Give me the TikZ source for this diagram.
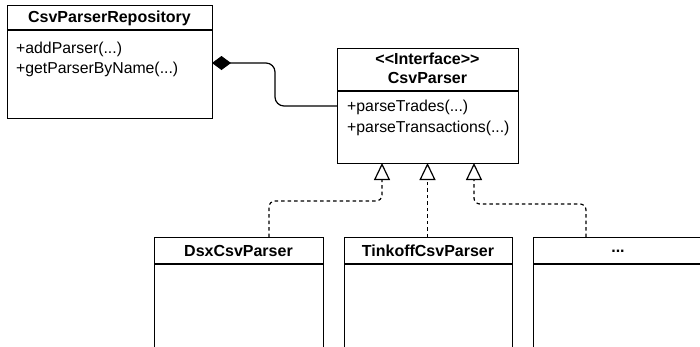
\documentclass[tikz,border=0pt]{standalone}
\usepackage{fontspec}
\setmainfont{Liberation Sans}
\usetikzlibrary{arrows.meta}
\begin{document}
\begin{tikzpicture}[x=1pt,y=-1pt,
  box/.style={draw, line width=1.2pt, rectangle, anchor=north west, inner sep=0pt, fill=white},
  sep/.style={line width=1.2pt},
  head/.style={font=\fontsize{16}{19}\selectfont\bfseries, inner sep=0pt},
  meth/.style={font=\fontsize{15.8}{19}\selectfont, inner sep=0pt, anchor=west},
  real/.style={line width=1.2pt, dash pattern=on 3.5pt off 3pt, rounded corners=6pt,
    -{Triangle[open, length=17pt, width=16pt, line width=1.2pt]}},
  comp/.style={line width=1.2pt, rounded corners=9pt,
    -{Diamond[length=19pt, width=14pt]}}
]
\useasboundingbox (0,0) rectangle (700,346);
\clip (0,0) rectangle (700,346);

% CsvParserRepository
\node[box, minimum width=205pt, minimum height=113pt] (rep) at (7,5) {};
\draw[sep] (7,30) coordinate (repsl) -- (212,30) coordinate (repsr);
\node[head] (repname) at (109.5,18) {CsvParserRepository};
\node[meth] (repm1) at (16,49) {+addParser(...)};
\node[meth] (repm2) at (16,69) {+getParserByName(...)};

% CsvParser
\node[box, minimum width=181pt, minimum height=115pt] (csv) at (337,48) {};
\draw[sep] (337,91) coordinate (csvsl) -- (518,91) coordinate (csvsr);
\node[head] (csvst) at (427.5,59) {<\kern0pt<Interface>\kern0pt>};
\node[head] (csvname) at (427.5,78) {CsvParser};
\node[meth] (csvm1) at (347,107) {+parseTrades(...)};
\node[meth] (csvm2) at (347,128) {+parseTransactions(...)};

% Implementations
\node[box, minimum width=169pt, minimum height=140pt] (dsx) at (154,237) {};
\draw[sep] (154,264) -- (323,264);
\node[head] (dsxname) at (238.5,251) {DsxCsvParser};

\node[box, minimum width=168pt, minimum height=140pt] (tink) at (344,237) {};
\draw[sep] (344,264) -- (512,264);
\node[head] (tinkname) at (428,251) {TinkoffCsvParser};

\node[box, minimum width=170pt, minimum height=140pt] (more) at (533,237) {};
\draw[sep] (533,264) -- (703,264);
\node[head] (morename) at (618,251) {...};

% composition
\coordinate (c1) at (337,106);
\coordinate (c2) at (275,106);
\coordinate (c3) at (275,63);
\coordinate (c4) at (212,63);
\draw[comp] (c1) -- (c2) -- (c3) -- (c4);

% realizations
\coordinate (t1) at (382,163);
\coordinate (t2) at (427.5,163);
\coordinate (t3) at (474,163);
\draw[real] (269,237) -- (269,201) -- (382,201) -- (t1);
\draw[real] (427.5,237) -- (t2);
\draw[real] (586,237) -- (586,204) -- (474,204) -- (t3);
\end{tikzpicture}
\end{document}
